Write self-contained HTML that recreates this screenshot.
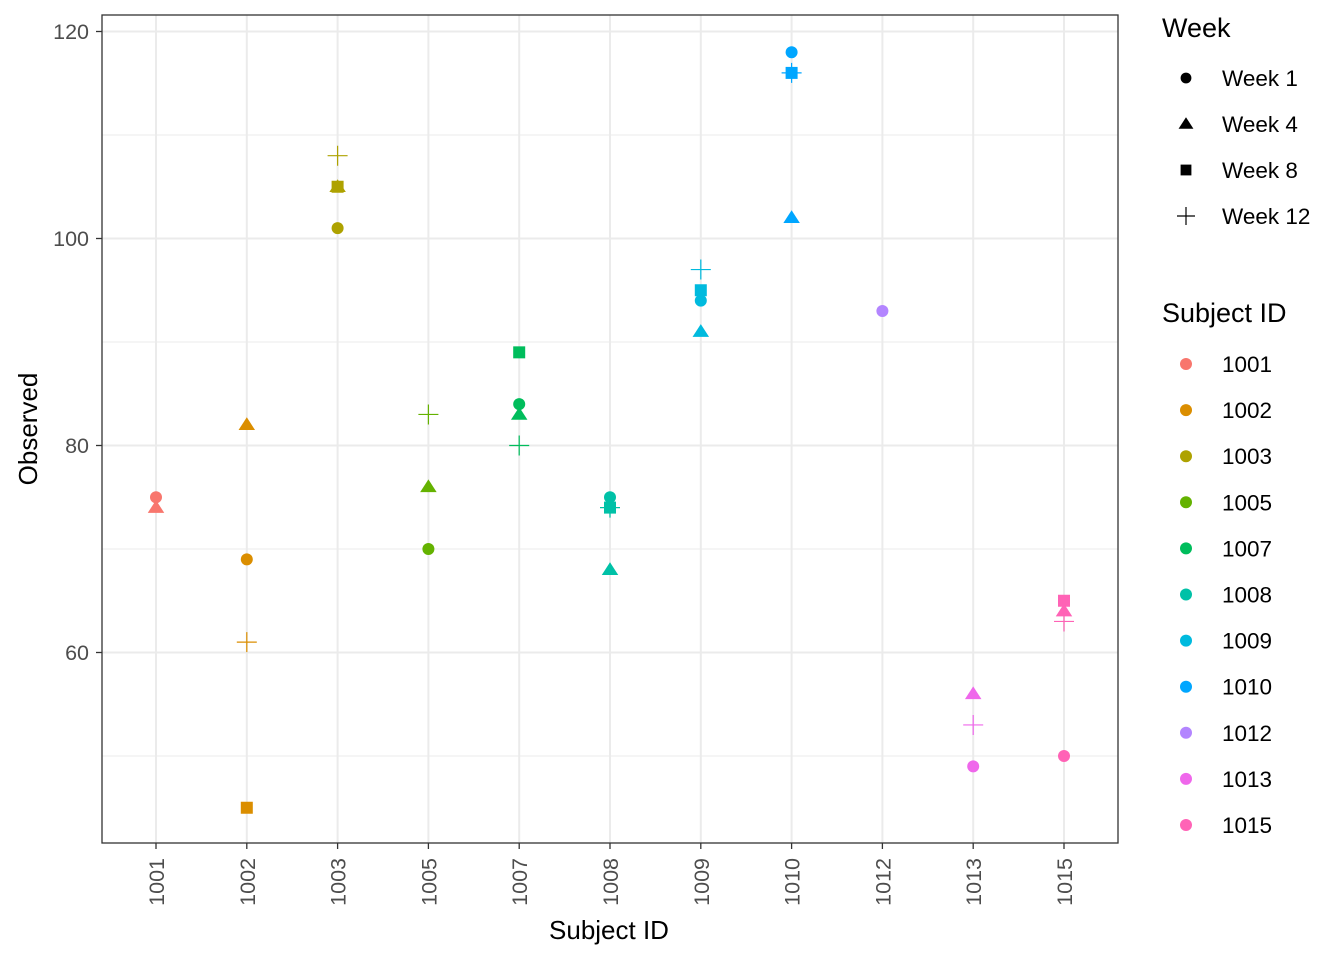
<!DOCTYPE html>
<html><head><meta charset="utf-8"><style>
body{margin:0;background:#fff}
svg text{font-family:"Liberation Sans",Arial,sans-serif}
</style></head><body>
<svg id="chart" width="1344" height="960" xmlns="http://www.w3.org/2000/svg">
<g id="grid"></g>
<g id="points"></g>
<rect x="102" y="15" width="1016" height="828" fill="none" stroke="#333" stroke-width="1.3"/>
<g id="axes"></g>
<text x="609" y="939" font-size="26" text-anchor="middle" fill="#000">Subject ID</text>
<text transform="translate(37,429) rotate(-90)" font-size="26" text-anchor="middle" fill="#000">Observed</text>
<g id="legend"></g>
</svg>
<script>
const categories=["1001","1002","1003","1005","1007","1008","1009","1010","1012","1013","1015"];
const colors=["#F8766D","#DB8E00","#AEA200","#64B200","#00BD5C","#00C1A7","#00BADE","#00A6FF","#B385FF","#EF67EB","#FF63B6"];
const weeks=["Week 1","Week 4","Week 8","Week 12"];
const week1=[75,69,101,70,84,75,94,118,93,49,50];
const week4=[74,82,105,76,83,68,91,102,null,56,64];
const week8=[null,45,105,null,89,74,95,116,null,null,65];
const week12=[null,61,108,83,80,74,97,116,null,53,63];
const yTicks=[60,80,100,120];
const yMinor=[50,70,90,110];
const NS="http://www.w3.org/2000/svg";
function xS(i){return 156+i*90.8;}
function yS(v){return 238.5-(v-100)*10.35;}
function mk(tag,attrs,parent){const e=document.createElementNS(NS,tag);for(const k in attrs)e.setAttribute(k,attrs[k]);parent.appendChild(e);return e;}
const grid=document.getElementById('grid'),pts=document.getElementById('points'),axes=document.getElementById('axes'),leg=document.getElementById('legend');
yMinor.forEach(v=>{const l=mk('line',{x1:102,x2:1118,y1:yS(v),y2:yS(v),stroke:'#ebebeb','stroke-width':1},grid);});
yTicks.forEach(v=>{const l=mk('line',{x1:102,x2:1118,y1:yS(v),y2:yS(v),stroke:'#ebebeb','stroke-width':2},grid);
 mk('line',{x1:96,x2:102,y1:yS(v),y2:yS(v),stroke:'#333','stroke-width':1.3},axes);
 const t=mk('text',{x:89,y:yS(v)+7.5,'font-size':21.5,'text-anchor':'end',fill:'#4d4d4d'},axes);t.textContent=v;
 });
categories.forEach((c,i)=>{const x=xS(i);
 const l=mk('line',{x1:x,x2:x,y1:15,y2:843,stroke:'#ebebeb','stroke-width':2},grid);
 mk('line',{x1:x,x2:x,y1:843,y2:849,stroke:'#333','stroke-width':1.3},axes);
 const t=mk('text',{transform:`translate(${x+8},858) rotate(-90)`,'font-size':21.5,'text-anchor':'end',fill:'#4d4d4d'},axes);t.textContent=c;
 });
function shape(type,x,y,col,parent,s){s=s||1;let e;
 if(type===0)e=mk('circle',{cx:x,cy:y,r:6*s,fill:col},parent);
 else if(type===1){const h=7.5*s;e=mk('polygon',{points:`${x},${y-h} ${x+h*1.1},${y+h*0.7} ${x-h*1.1},${y+h*0.7}`,fill:col},parent);}
 else if(type===2){const h=6*s;e=mk('rect',{x:x-h,y:y-h,width:2*h,height:2*h,fill:col},parent);}
 else{const h=10*s;e=mk('path',{d:`M${x-h},${y}H${x+h}M${x},${y-h}V${y+h}`,stroke:col,'stroke-width':1.2,fill:'none'},parent);}
 return e;}
[week1,week4,week8,week12].forEach((arr,w)=>{arr.forEach((v,i)=>{if(v==null)return;
 const e=shape(w,xS(i),yS(v),colors[i],pts);
 
 });});
let t=mk('text',{x:1162,y:37,'font-size':27,fill:'#000'},leg);t.textContent='Week';

weeks.forEach((w,k)=>{const y=78+k*46;const g=mk('g',{},leg);
 
 shape(k,1186,y,'#000',g,0.9);
 const tx=mk('text',{x:1222,y:y+8,'font-size':22.5,fill:'#000'},g);tx.textContent=w;});
t=mk('text',{x:1162,y:322,'font-size':27,fill:'#000'},leg);t.textContent='Subject ID';

categories.forEach((c,i)=>{const y=364+i*46.1;const g=mk('g',{},leg);
 
 mk('circle',{cx:1186,cy:y,r:6,fill:colors[i]},g);
 const tx=mk('text',{x:1222,y:y+8,'font-size':22.5,fill:'#000'},g);tx.textContent=c;});
</script>
</body></html>
